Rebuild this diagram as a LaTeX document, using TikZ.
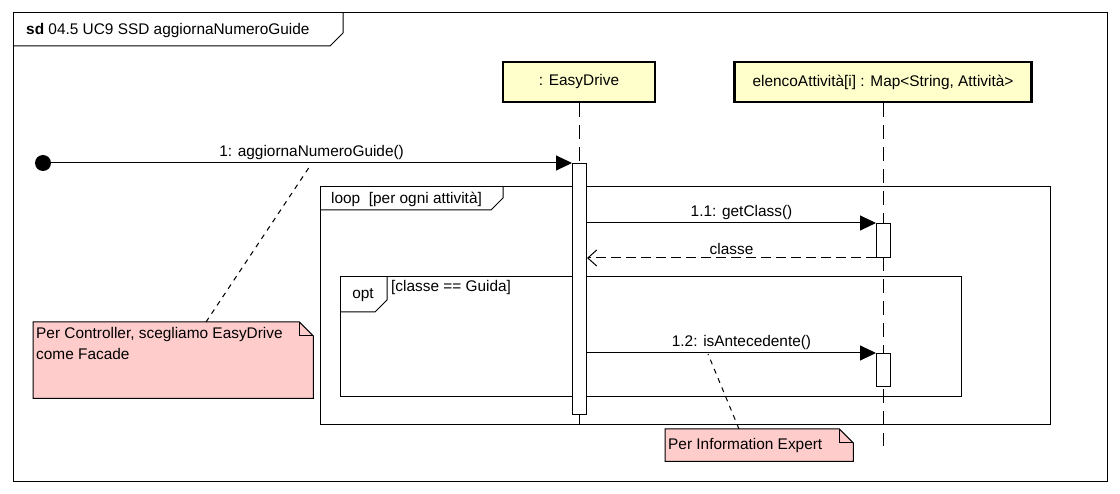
\documentclass[tikz,border=0pt]{standalone}
\usepackage{fontspec}
\setmainfont{Liberation Sans}
\usetikzlibrary{arrows.meta,positioning,calc}
\definecolor{sdHead}{HTML}{FFFFCC}
\definecolor{sdNote}{HTML}{FFCCCC}
\definecolor{sdInk}{HTML}{000000}
\tikzset{
  sdfont/.style={font=\fontsize{15.4}{21}\selectfont},
  frameline/.style={draw=sdInk, line width=1pt},
  headbox/.style={
    draw=sdInk,
    fill=sdHead,
    line width=2.8pt,
    minimum height=40pt,
    inner sep=0pt,
    sdfont
  },
  lifeline/.style={
    draw=sdInk,
    line width=1pt,
    dash pattern=on 14pt off 8pt
  },
  actbar/.style={
    draw=sdInk,
    fill=white,
    line width=1pt,
    minimum width=14pt,
    inner sep=0pt
  },
  startdot/.style={
    circle,
    fill=sdInk,
    minimum size=16pt,
    inner sep=0pt
  },
  msg/.style={
    -{Triangle[length=16pt,width=15pt]},
    line width=1pt,
    draw=sdInk
  },
  reply/.style={
    -{Straight Barb[length=9pt,width=16pt,line width=1pt]},
    line width=1pt,
    draw=sdInk,
    dash pattern=on 10pt off 5pt
  },
  msglabel/.style={sdfont, inner sep=1pt, yshift=2pt},
  noteline/.style={draw=sdInk, fill=sdNote, line width=1pt},
  notelink/.style={draw=sdInk, line width=1pt, dash pattern=on 5pt off 5pt},
  notetext/.style={sdfont, align=left, inner xsep=3pt, inner ysep=5pt}
}
% folded note outline around a sized node
\newcommand{\notepath}[1]{%
  \path[noteline] (#1.south west) -- (#1.south east) -- ([yshift=-14pt]#1.north east)
    -- ([xshift=-14pt]#1.north east) -- (#1.north west) -- cycle;
  \draw[frameline] ([xshift=-14pt]#1.north east) -- ([xshift=-14pt,yshift=-14pt]#1.north east)
    -- ([yshift=-14pt]#1.north east);}

\begin{document}
\begin{tikzpicture}[x=1pt,y=-1pt]
\useasboundingbox (0,0) rectangle (1120,494);

% diagram frame
\draw[frameline] (13,13) rectangle (1107,481);
\draw[frameline] (13,46) -- (330,46) -- (343,33) -- (343,13);
\node[sdfont, anchor=west, inner sep=0pt] (title) at (26,31) {\textbf{sd} 04.5 UC9 SSD aggiornaNumeroGuide};

% lifelines
\node[headbox, minimum width=152pt] (easy) at (579,82) {: EasyDrive};
\node[headbox, minimum width=297pt] (elenco) at (883,82) {elencoAttività[i] : Map<String, Attività>};
\coordinate (easyEnd) at (579,428);
\coordinate (elencoEnd) at (883,446);
\draw[lifeline] (easy) -- (easyEnd);
\draw[lifeline] (elenco) -- (elencoEnd);

% combined fragments
\draw[frameline] (320,187) rectangle (1050,425);
\draw[frameline] (320,210) -- (491,210) -- (503,198) -- (503,187);
\node[sdfont, anchor=west, inner sep=0pt] (loopLbl) at (331,199) {loop\ \ [per ogni attività]};

\draw[frameline] (340,277) rectangle (961,397);
\draw[frameline] (340,312) -- (375,312) -- (387,300) -- (387,277);
\node[sdfont, inner sep=0pt] (optLbl) at (363,295) {opt};
\node[sdfont, anchor=west, inner sep=0pt] (guard) at (391,288) {[classe == Guida]};

% activations
\node[actbar, minimum height=251pt, anchor=north] (actEasy) at (579.5,163) {};
\node[actbar, minimum height=34pt, anchor=north] (actGet) at (883.5,223) {};
\node[actbar, minimum height=33pt, anchor=north] (actAnte) at (883.5,353) {};

% messages
\node[startdot] (start) at (43,163) {};
\draw[msg] (start) -- node[above, msglabel] {1: aggiornaNumeroGuide()} (actEasy.north west);
\draw[msg] (actEasy.east |- actGet.north) -- node[above, msglabel, xshift=10pt] {1.1: getClass()} (actGet.north west);
\draw[reply] (actGet.south west) -- node[above, msglabel] {classe} (actEasy.east |- actGet.south);
\draw[msg] (actEasy.east |- actAnte.north) -- node[above, msglabel, xshift=10pt] {1.2: isAntecedente()} (actAnte.north west);

% notes
\node[minimum width=280pt, minimum height=76pt, anchor=north west, inner sep=0pt] (note1) at (33,322) {};
\notepath{note1}
\node[notetext, anchor=north west] (note1txt) at (note1.north west) {Per Controller, scegliamo EasyDrive\\come Facade};
\node[minimum width=188pt, minimum height=32pt, anchor=north west, inner sep=0pt] (note2) at (665,429) {};
\notepath{note2}
\node[notetext, anchor=west] (note2txt) at (note2.west) {Per Information Expert};

\coordinate (onAggiorna) at (310,166);
\coordinate (onAnte) at (708,354);
\draw[notelink] ([xshift=173pt]note1.north west) -- (onAggiorna);
\draw[notelink] ([xshift=74pt]note2.north west) -- (onAnte);

\end{tikzpicture}
\end{document}
